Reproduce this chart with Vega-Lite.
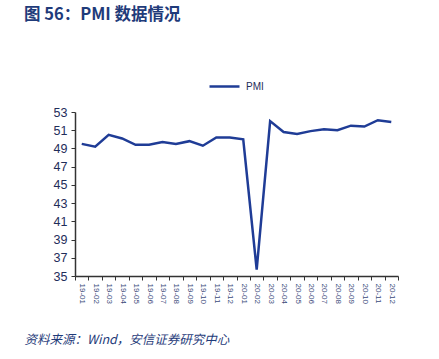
{
  "$schema": "https://vega.github.io/schema/vega-lite/v6.json",
  "width": 323,
  "height": 164,
  "autosize": "none",
  "padding": {"left": 75, "top": 112, "right": 41, "bottom": 83},
  "background": "white",
  "title": {
    "text": "图 56：PMI 数据情况",
    "anchor": "start",
    "frame": "group",
    "orient": "top",
    "dx": -51,
    "offset": 34,
    "baseline": "alphabetic",
    "font": "Noto Sans CJK SC",
    "fontSize": 16.5,
    "fontWeight": "bold",
    "color": "#1f3b7a"
  },
  "config": {
    "view": {"stroke": null},
    "font": "Liberation Sans"
  },
  "data": {
    "values": [
      {"month": "19-01", "series": "PMI", "value": 49.5},
      {"month": "19-02", "series": "PMI", "value": 49.2},
      {"month": "19-03", "series": "PMI", "value": 50.5},
      {"month": "19-04", "series": "PMI", "value": 50.1},
      {"month": "19-05", "series": "PMI", "value": 49.4},
      {"month": "19-06", "series": "PMI", "value": 49.4},
      {"month": "19-07", "series": "PMI", "value": 49.7},
      {"month": "19-08", "series": "PMI", "value": 49.5},
      {"month": "19-09", "series": "PMI", "value": 49.8},
      {"month": "19-10", "series": "PMI", "value": 49.3},
      {"month": "19-11", "series": "PMI", "value": 50.2},
      {"month": "19-12", "series": "PMI", "value": 50.2},
      {"month": "20-01", "series": "PMI", "value": 50.0},
      {"month": "20-02", "series": "PMI", "value": 35.7},
      {"month": "20-03", "series": "PMI", "value": 52.0},
      {"month": "20-04", "series": "PMI", "value": 50.8},
      {"month": "20-05", "series": "PMI", "value": 50.6},
      {"month": "20-06", "series": "PMI", "value": 50.9},
      {"month": "20-07", "series": "PMI", "value": 51.1},
      {"month": "20-08", "series": "PMI", "value": 51.0},
      {"month": "20-09", "series": "PMI", "value": 51.5},
      {"month": "20-10", "series": "PMI", "value": 51.4},
      {"month": "20-11", "series": "PMI", "value": 52.1},
      {"month": "20-12", "series": "PMI", "value": 51.9}
    ]
  },
  "mark": {"type": "line", "strokeWidth": 2.5, "strokeJoin": "miter"},
  "encoding": {
    "x": {
      "field": "month",
      "type": "ordinal",
      "sort": null,
      "scale": {"paddingInner": 0, "paddingOuter": 0},
      "axis": {
        "title": "资料来源：Wind，安信证券研究中心",
        "titleFont": "Noto Sans CJK SC",
        "titleFontStyle": "italic",
        "titleFontWeight": "normal",
        "titleFontSize": 12.5,
        "titleColor": "#1f3b7a",
        "titleAnchor": "start",
        "titleAlign": "left",
        "titleBaseline": "top",
        "titleX": -51,
        "titleY": 57,
        "labelAngle": 90,
        "labelFontSize": 8,
        "labelColor": "#3b4a7a",
        "labelPadding": 3,
        "tickBand": "extent",
        "tickSize": 4,
        "tickColor": "#333333",
        "domainColor": "#333333",
        "domainWidth": 1.5,
        "grid": false
      }
    },
    "y": {
      "field": "value",
      "type": "quantitative",
      "scale": {"domain": [35, 53], "nice": false, "zero": false},
      "axis": {
        "title": null,
        "values": [35, 37, 39, 41, 43, 45, 47, 49, 51, 53],
        "labelFontSize": 12.5,
        "labelColor": "#1f2d5a",
        "labelPadding": 4,
        "tickSize": 4,
        "tickColor": "#333333",
        "domainColor": "#333333",
        "domainWidth": 1.5,
        "grid": false
      }
    },
    "color": {
      "field": "series",
      "type": "nominal",
      "scale": {"range": ["#1f3c96"]},
      "legend": {
        "title": null,
        "orient": "none",
        "legendX": 133,
        "legendY": -42,
        "symbolType": "stroke",
        "symbolSize": 900,
        "symbolStrokeWidth": 2.5,
        "labelFontSize": 10,
        "labelColor": "#1f2d5a",
        "labelOffset": 5
      }
    }
  }
}
